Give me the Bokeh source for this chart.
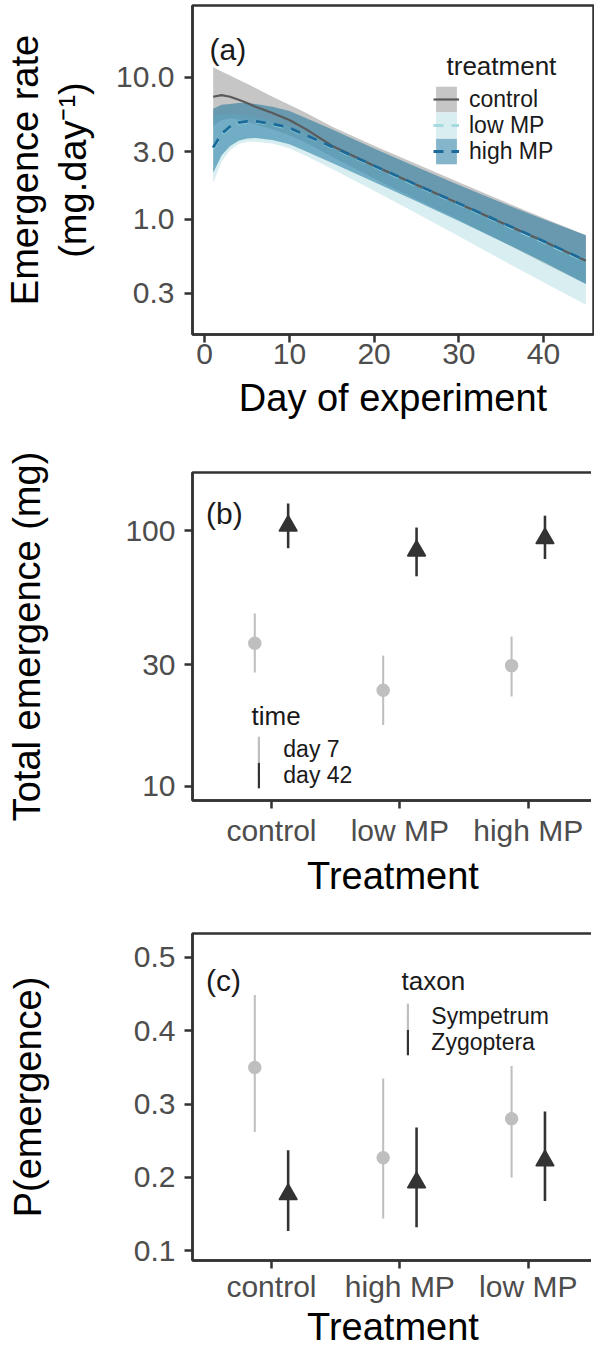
from bokeh.plotting import figure
from bokeh.layouts import column
from bokeh.models import (ColumnDataSource, Range1d, FixedTicker, PrintfTickFormatter,
                          LogAxis, Legend, LegendItem, Label)
from bokeh.transform import dodge
from bokeh.embed import file_html
from bokeh.resources import INLINE

FONT = "Liberation Sans"
FRAME_COL = "#333333"
TICK_COL = "#4d4d4d"
LIGHT = "#bfbfbf"
DARK = "#333333"
TICK_FS = "30px"
TITLE_FS = "38px"
LEG_FS = "23px"
LEG_TITLE_FS = "26px"

# ---------------- (a) emergence rate over time ----------------
day = [1, 2, 3, 4, 5, 6, 8, 10, 12, 15, 20, 25, 30, 35, 40, 45]
control_fit = [7.3, 7.5, 7.3, 6.95, 6.6, 6.2, 5.6, 5.0, 4.3, 3.3, 2.38, 1.75, 1.29, 0.95, 0.70, 0.51]
control_lower = [4.56, 5.0, 5.14, 5.04, 4.89, 4.66, 4.31, 3.91, 3.44, 2.77, 1.94, 1.38, 0.99, 0.70, 0.49, 0.35]
control_upper = [11.8, 11.0, 10.3, 9.6, 9.0, 8.4, 7.3, 6.4, 5.6, 4.5, 3.3, 2.45, 1.82, 1.36, 1.02, 0.77]
low_fit = [3.15, 3.95, 4.45, 4.75, 4.85, 4.85, 4.65, 4.35, 3.87, 3.22, 2.36, 1.73, 1.28, 0.94, 0.69, 0.505]
low_lower = [1.8, 2.55, 3.08, 3.39, 3.51, 3.52, 3.42, 3.17, 2.79, 2.27, 1.59, 1.10, 0.76, 0.52, 0.36, 0.25]
low_upper = [5.4, 5.55, 5.54, 5.5, 5.39, 5.25, 4.92, 4.52, 3.99, 3.27, 2.34, 1.71, 1.25, 0.94, 0.71, 0.54]
high_fit = [3.2, 4.0, 4.5, 4.8, 4.9, 4.9, 4.7, 4.4, 3.9, 3.25, 2.38, 1.75, 1.29, 0.95, 0.70, 0.51]
high_lower = [2.13, 2.82, 3.28, 3.58, 3.71, 3.74, 3.62, 3.38, 3.0, 2.5, 1.83, 1.34, 0.97, 0.70, 0.50, 0.35]
high_upper = [6.0, 6.4, 6.5, 6.6, 6.6, 6.5, 6.2, 5.8, 5.15, 4.3, 3.15, 2.33, 1.74, 1.31, 1.0, 0.77]
a_treatments = ["control", "low MP", "high MP"]
a_xticks = [0, 10, 20, 30, 40]
a_yticks = [0.3, 1, 3, 10]

# ---------------- (b) total emergence ----------------
treat_b = ["control", "low MP", "high MP"]
day7_mean = [36.3, 23.8, 29.7]
day7_lo = [27.9, 17.4, 22.5]
day7_hi = [47.5, 32.5, 38.6]
day42_mean = [104.6, 83.6, 93.4]
day42_lo = [85.5, 66.4, 77.6]
day42_hi = [128.0, 103.0, 114.6]
b_times = ["day 7", "day 42"]
b_yticks = [10, 30, 100]

# ---------------- (c) probability of emergence ----------------
treat_c = ["control", "high MP", "low MP"]
symp_mean = [0.350, 0.227, 0.280]
symp_lo = [0.262, 0.144, 0.200]
symp_hi = [0.449, 0.335, 0.352]
zygo_mean = [0.177, 0.193, 0.223]
zygo_lo = [0.127, 0.132, 0.168]
zygo_hi = [0.237, 0.268, 0.290]
c_taxa = ["Sympetrum", "Zygoptera"]
c_yticks = [0.1, 0.2, 0.3, 0.4, 0.5]


def base_fig(frame_h, top, bottom, x_range, y_range, y_type):
    p = figure(frame_width=401, frame_height=frame_h, min_border_left=185, min_border_right=1,
               min_border_top=top, min_border_bottom=bottom, x_range=x_range, y_range=y_range,
               y_axis_type=y_type, output_backend="svg", toolbar_location=None)
    p.grid.visible = False
    p.outline_line_color = FRAME_COL
    p.outline_line_width = 2.5
    p.outline_line_alpha = 1
    p.background_fill_color = "white"
    p.border_fill_color = "white"
    return p


def style_axis(ax, lab_standoff, title_standoff):
    ax.axis_line_color = FRAME_COL
    ax.axis_line_width = 2.5
    ax.major_tick_line_color = FRAME_COL
    ax.major_tick_line_width = 2.5
    ax.major_tick_out = 8
    ax.major_tick_in = 0
    ax.minor_tick_line_color = None
    ax.major_label_text_font = FONT
    ax.major_label_text_font_size = TICK_FS
    ax.major_label_text_color = TICK_COL
    ax.major_label_standoff = lab_standoff
    ax.axis_label_text_font = FONT
    ax.axis_label_text_font_size = TITLE_FS
    ax.axis_label_text_font_style = "normal"
    ax.axis_label_text_color = "black"
    ax.axis_label_standoff = title_standoff


def add_text(p, x, y, text, size, color):
    p.add_layout(Label(x=x, y=y, x_units="screen", y_units="screen", text=text,
                       text_font=FONT, text_font_size=size, text_color=color,
                       text_align="left", text_baseline="alphabetic"))


def add_legend_row(p, label, renderers, loc, gw, standoff):
    p.add_layout(Legend(items=[LegendItem(label=label, renderers=renderers)], location=loc,
                        orientation="vertical", padding=0, margin=0, spacing=0,
                        glyph_width=gw, glyph_height=32, label_height=32,
                        label_standoff=standoff, label_text_font=FONT, label_text_font_size=LEG_FS,
                        label_text_color="#1a1a1a", background_fill_alpha=0, border_line_color=None))


# ================= panel (a) =================
pa = base_fig(329, 5, 95, Range1d(-1.44, 45.9), Range1d(0.154, 32.1), "log")
src_a = ColumnDataSource(dict(day=day, c_fit=control_fit, c_lo=control_lower, c_hi=control_upper,
                              l_fit=low_fit, l_lo=low_lower, l_hi=low_upper,
                              h_fit=high_fit, h_lo=high_lower, h_hi=high_upper))
cb = pa.varea(x="day", y1="c_lo", y2="c_hi", source=src_a, fill_color="#8d8d8d", fill_alpha=0.5)
lb = pa.varea(x="day", y1="l_lo", y2="l_hi", source=src_a, fill_color="#b1dde3", fill_alpha=0.5)
hb = pa.varea(x="day", y1="h_lo", y2="h_hi", source=src_a, fill_color="#0a6b97", fill_alpha=0.5)
cl = pa.line(x="day", y="c_fit", source=src_a, line_color="#5a5a5a", line_width=2.2)
ll = pa.line(x="day", y="l_fit", source=src_a, line_color="#a6dbe0", line_width=2.8, line_dash="10 8")
hl = pa.line(x="day", y="h_fit", source=src_a, line_color="#1b6a9a", line_width=2.8, line_dash="10 8")

ya = pa.left[0]
style_axis(ya, 10, 19)
ya.ticker = FixedTicker(ticks=a_yticks)
ya.formatter = PrintfTickFormatter(format="%.1f")
ya.axis_label = "(mg.day\u207b\u00b9)"
xa = pa.below[0]
style_axis(xa, 1, 10)
xa.ticker = FixedTicker(ticks=a_xticks)
xa.axis_label = "Day of experiment"

ya2 = LogAxis(ticker=FixedTicker(ticks=[]), axis_label="Emergence rate")
style_axis(ya2, 0, 4)
ya2.axis_line_color = None
ya2.major_tick_line_color = None
ya2.major_tick_out = 0
pa.add_layout(ya2, "left")

for lab, rends, vy in zip(a_treatments, [[cb, cl], [lb, ll], [hb, hl]], [219, 193, 167]):
    add_legend_row(pa, lab, rends, (241, vy), 26, 10)
add_text(pa, 254, 269, "treatment", LEG_TITLE_FS, "#1a1a1a")
add_text(pa, 17, 285, "(a)", "30px", "#1a1a1a")

# ================= panel (b) =================
pb = base_fig(328, 43, 94, Range1d(0.385, 3.508), Range1d(8.815, 169.1), "log")
pos_b = list(range(1, len(treat_b) + 1))
src_b = ColumnDataSource(dict(pos=pos_b, treatment=treat_b,
                              d7=day7_mean, d7_lo=day7_lo, d7_hi=day7_hi,
                              d42=day42_mean, d42_lo=day42_lo, d42_hi=day42_hi))
r7b = pb.vbar(x=dodge("pos", -0.13), bottom="d7_lo", top="d7_hi", width=0.016, source=src_b,
              fill_color=LIGHT, line_color=None)
r7p = pb.scatter(x=dodge("pos", -0.13), y="d7", marker="circle", size=12, source=src_b,
                 fill_color=LIGHT, line_color=LIGHT, line_width=1.5)
r42b = pb.vbar(x=dodge("pos", 0.13), bottom="d42_lo", top="d42_hi", width=0.02, source=src_b,
               fill_color=DARK, line_color=None)
r42p = pb.scatter(x=dodge("pos", 0.13), y="d42", marker="triangle", size=18, source=src_b,
                  fill_color=DARK, line_color=DARK, line_width=1.5)

yb = pb.left[0]
style_axis(yb, 9, 74)
yb.ticker = FixedTicker(ticks=b_yticks)
yb.formatter = PrintfTickFormatter(format="%d")
yb.axis_label = "Total emergence (mg)"
xb = pb.below[0]
style_axis(xb, 5, 5)
xb.ticker = FixedTicker(ticks=pos_b)
xb.major_label_overrides = dict(zip(pos_b, treat_b))
xb.axis_label = "Treatment"

for lab, rends, vy in zip(b_times, [[r7b, r7p], [r42b, r42p]], [35, 9]):
    add_legend_row(pb, lab, rends, (68, vy), 3, 23)
add_text(pb, 59, 85, "time", LEG_TITLE_FS, "#1a1a1a")
add_text(pb, 13.5, 287, "(b)", "30px", "#1a1a1a")

# ================= panel (c) =================
pc = base_fig(327, 34, 85, Range1d(0.385, 3.508), Range1d(0.0868, 0.5327), "linear")
pos_c = list(range(1, len(treat_c) + 1))
src_c = ColumnDataSource(dict(pos=pos_c, treatment=treat_c,
                              s=symp_mean, s_lo=symp_lo, s_hi=symp_hi,
                              z=zygo_mean, z_lo=zygo_lo, z_hi=zygo_hi))
rsb = pc.vbar(x=dodge("pos", -0.13), bottom="s_lo", top="s_hi", width=0.016, source=src_c,
              fill_color=LIGHT, line_color=None)
rsp = pc.scatter(x=dodge("pos", -0.13), y="s", marker="circle", size=12, source=src_c,
                 fill_color=LIGHT, line_color=LIGHT, line_width=1.5)
rzb = pc.vbar(x=dodge("pos", 0.13), bottom="z_lo", top="z_hi", width=0.02, source=src_c,
              fill_color=DARK, line_color=None)
rzp = pc.scatter(x=dodge("pos", 0.13), y="z", marker="triangle", size=18, source=src_c,
                 fill_color=DARK, line_color=DARK, line_width=1.5)

yc = pc.left[0]
style_axis(yc, 9, 82)
yc.ticker = FixedTicker(ticks=c_yticks)
yc.formatter = PrintfTickFormatter(format="%.1f")
yc.axis_label = "P(emergence)"
xc = pc.below[0]
style_axis(xc, 1, 0)
xc.ticker = FixedTicker(ticks=pos_c)
xc.major_label_overrides = dict(zip(pos_c, treat_c))
xc.axis_label = "Treatment"

for lab, rends, vy in zip(c_taxa, [[rsb, rsp], [rzb, rzp]], [228, 202]):
    add_legend_row(pc, lab, rends, (217, vy), 3, 22)
add_text(pc, 209, 280, "taxon", LEG_TITLE_FS, "#1a1a1a")
add_text(pc, 13.5, 280, "(c)", "30px", "#1a1a1a")

layout = column(pa, pb, pc, spacing=0)
open("out.html", "w").write(file_html(layout, INLINE))
